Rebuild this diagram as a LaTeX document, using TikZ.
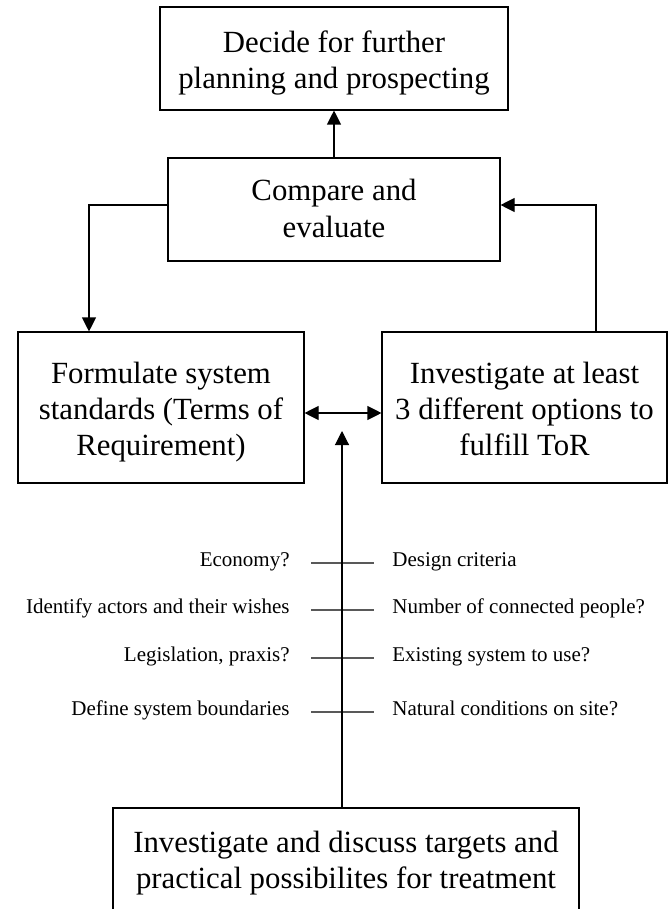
\documentclass[tikz,border=0pt]{standalone}
\usepackage{fontspec}
\setmainfont{Liberation Serif}
\usetikzlibrary{arrows.meta}
\newcommand{\boxfont}{\fontsize{15.4}{18}\selectfont}
\newcommand{\notefont}{\fontsize{10.5}{12.6}\selectfont}
\newcommand{\boxtop}[1]{\rule{0pt}{#1}}
\newcommand{\boxbot}[1]{\rule[-#1]{0pt}{#1}}

\begin{document}
\begin{tikzpicture}[
    x=0.5pt, y=-0.5pt,
    box/.style={rectangle, draw, line width=0.55pt, align=center, inner sep=0pt, font=\boxfont},
    note/.style={inner sep=0pt, font=\notefont},
    arrow/.style={->, >={Triangle[length=7pt, width=7pt]}, line width=0.55pt},
    tick/.style={draw=black!65, line width=0.8pt}
]
    \clip (0,0) rectangle (668,909);

    % Nodes
    \node[box, minimum width=174pt, minimum height=51.5pt] (decide) at (334,58.5) {\boxtop{16.5pt}Decide for further\\planning and prospecting\boxbot{4pt}};
    \node[box, minimum width=166pt, minimum height=51.5pt] (compare) at (334,209.5) {\boxtop{13.5pt}Compare and\\evaluate\boxbot{4pt}};
    \node[box, minimum width=143pt, minimum height=75.5pt] (formulate) at (161,407.5) {\boxtop{16pt}Formulate system\\standards (Terms of\\Requirement)\boxbot{4pt}};
    \node[box, minimum width=142.5pt, minimum height=75.5pt] (investigate) at (524.5,407.5) {\boxtop{16pt}Investigate at least\\3 different options to\\fulfill ToR\boxbot{4pt}};
    \node[box, minimum width=233pt, minimum height=55pt] (treat) at (346,863) {Investigate and discuss targets and\\practical possibilites for treatment};
    \coordinate (mid) at (342,431);

    % Questions along the line
    \foreach \yy/\lt/\rt [count=\i] in {563/Economy?/Design criteria,
        610/Identify actors and their wishes/Number of connected people?,
        658/{Legislation, praxis?}/Existing system to use?,
        712/Define system boundaries/Natural conditions on site?} {
        \node[note, anchor=base east] (l\i) at (290,\yy+3) {\lt};
        \node[note, anchor=base west] (r\i) at (392,\yy+3) {\rt};
        \draw[tick] ([xshift=10.5pt,yshift=1.5pt]l\i.base east) -- ([xshift=-9pt,yshift=1.5pt]r\i.base west);
    }

    % Arrows
    \draw[arrow] (compare) -- (decide);
    \draw[arrow] ([yshift=2.25pt]compare.west) -| ([xshift=-36pt]formulate.north);
    \draw[arrow] ([xshift=35.75pt]investigate.north) |- ([yshift=2.25pt]compare.east);
    \draw[arrow, <->] ([yshift=-2.75pt]formulate.east) -- ([yshift=-2.75pt]investigate.west);
    \draw[arrow] (treat.north -| mid) -- (mid);
\end{tikzpicture}
\end{document}
